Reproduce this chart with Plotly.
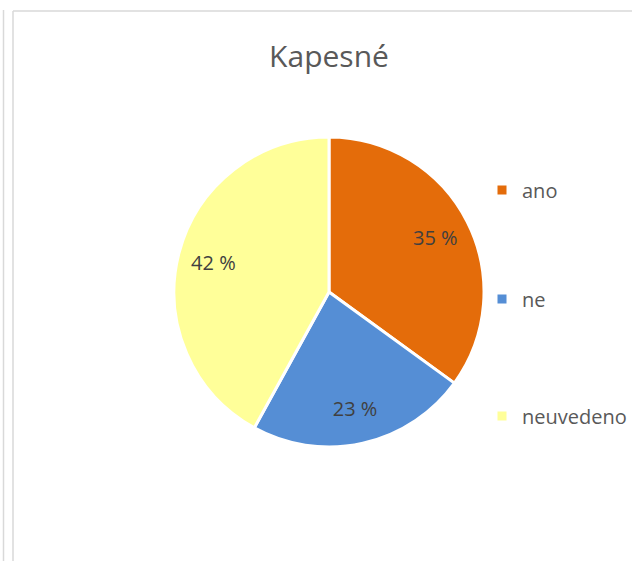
import plotly.graph_objects as go

# ---- data ----
categories = ["ano", "ne", "neuvedeno"]
values = [35, 23, 42]
colors = ["#E46C0A", "#558ED5", "#FFFF99"]
title_text = "Kapesné"

W, H = 632, 561
FONT = "Open Sans"

fig = go.Figure()

cx, cy, r = 329, 292, 155
pie_domain = dict(x=[(cx - r) / W, (cx + r) / W], y=[1 - (cy + r) / H, 1 - (cy - r) / H])

# visible pie (slices)
fig.add_trace(go.Pie(
    labels=categories,
    values=values,
    sort=False,
    direction="clockwise",
    rotation=0,
    marker=dict(colors=colors, line=dict(color="white", width=3)),
    textinfo="none",
    hoverinfo="label+value",
    showlegend=False,
    domain=pie_domain,
))

# transparent ring carrying the data labels (places them toward the outer part of each slice)
fig.add_trace(go.Pie(
    labels=categories,
    values=values,
    sort=False,
    direction="clockwise",
    rotation=0,
    hole=0.54,
    marker=dict(colors=["rgba(0,0,0,0)"] * len(values), line=dict(width=0)),
    texttemplate="%{value} %",
    textposition="inside",
    insidetextorientation="horizontal",
    textfont=dict(family=FONT, size=20, color="#404040"),
    hoverinfo="skip",
    showlegend=False,
    domain=pie_domain,
))

# legend entries (one legend per item, to reproduce the wide spacing)
legend_y_px = [190, 299, 416]
legend_names = ["legend", "legend2", "legend3"]
for name, col, lg in zip(categories, colors, legend_names):
    fig.add_trace(go.Scatter(
        x=[None], y=[None], mode="markers", name=name,
        marker=dict(symbol="square", size=9, color=col),
        legend=lg, showlegend=True, hoverinfo="skip",
    ))

legend_common = dict(
    x=482 / W, xanchor="left", yanchor="middle",
    font=dict(family=FONT, size=20, color="#595959"),
    bgcolor="rgba(0,0,0,0)", borderwidth=0,
)
layout_legends = {}
for lg, ypx in zip(legend_names, legend_y_px):
    layout_legends[lg] = dict(legend_common, y=1 - ypx / H)

fig.update_layout(
    width=W, height=H,
    margin=dict(l=0, r=0, t=0, b=0),
    paper_bgcolor="white", plot_bgcolor="white",
    title=dict(text=title_text, x=329 / W, xanchor="center", y=1 - 56 / H, yanchor="middle",
               font=dict(family=FONT, size=30, color="#595959")),
    xaxis=dict(visible=False), yaxis=dict(visible=False),
    shapes=[
        dict(type="line", xref="paper", yref="paper", x0=3.5 / W, x1=3.5 / W, y0=0, y1=1 - 10 / H,
             line=dict(color="#D9D9D9", width=1.5)),
        dict(type="line", xref="paper", yref="paper", x0=13 / W, x1=13 / W, y0=0, y1=1 - 11 / H,
             line=dict(color="#D9D9D9", width=1.5)),
        dict(type="line", xref="paper", yref="paper", x0=13 / W, x1=1, y0=1 - 11 / H, y1=1 - 11 / H,
             line=dict(color="#D9D9D9", width=1.5)),
    ],
    **layout_legends,
)

fig.write_html(
    "out.html",
    config={"displayModeBar": False},
    post_script="document.body.style.margin='0';document.body.style.overflow='hidden';",
)
